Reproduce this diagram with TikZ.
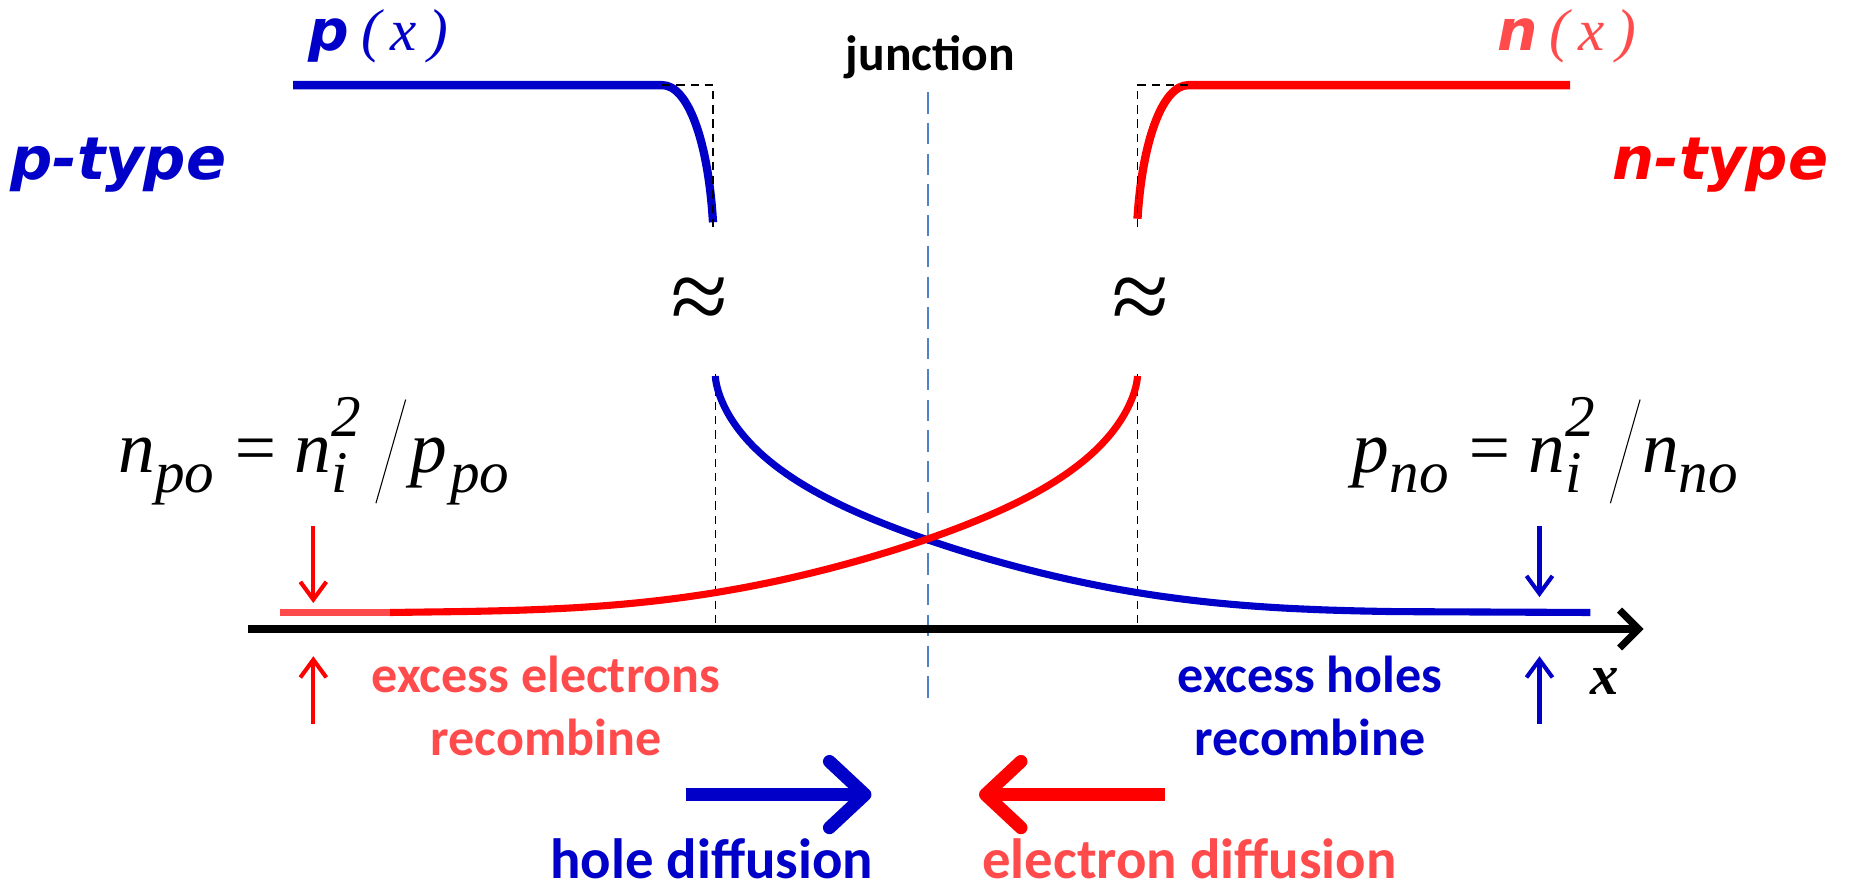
\documentclass[tikz,border=0pt]{standalone}
\usepackage{fontspec}
\usepackage{graphicx}
\setmainfont{Liberation Serif}
\newfontfamily\calb{Carlito}
\newfontfamily\dvs{DejaVu Sans}
\usetikzlibrary{arrows.meta}
\definecolor{pblue}{RGB}{0,0,200}
\definecolor{nred}{RGB}{255,0,0}
\definecolor{lred}{RGB}{255,75,75}
\definecolor{jblue}{RGB}{80,130,200}
\newcommand{\fs}[1]{\fontsize{#1}{#1}\selectfont}
\newcommand{\eqsub}[1]{\raisebox{-0.27em}{\fs{50}#1}}
\newcommand{\eqsup}[1]{\rlap{\raisebox{0.5em}{\fs{50}#1}}}
\newcommand{\slashbar}{\raisebox{-0.41em}{\rotatebox{-16}{\rule{0.9pt}{1.47em}}}}
\tikzset{
  curve/.style={line width=6pt},
  topline/.style={line width=7pt},
  guide/.style={black, line width=1.4pt, dash pattern=on 7pt off 5pt},
  smallarr/.style={line width=3.5pt, -{Straight Barb[length=15pt,width=22pt]}},
  bigarr/.style={line width=11pt, -{Straight Barb[length=30pt,width=56pt,round]}},
  lbl/.style={font=\calb\bfseries\fontsize{44}{53}\selectfont, align=center},
  difflbl/.style={font=\calb\bfseries\fs{48}, anchor=base},
  typelbl/.style={font=\dvs\bfseries\itshape\fs{50}},
  eqn/.style={anchor=base west, font=\fs{62}\itshape, inner sep=0pt},
}
\begin{document}
\begin{tikzpicture}[x=1pt,y=-1pt]
\useasboundingbox (0,0) rectangle (1568,755);
% labels top
\node[typelbl, text=pblue] (ptype) at (100,140) {p-type};
\node[typelbl, text=nred] (ntype) at (1455,140) {n-type};
\node[text=pblue] (px) at (320,31) {{\dvs\bfseries\itshape\fs{48}p}\hspace{10pt}{\fs{50}\itshape (\hspace{8pt}x\hspace{10pt})}};
\node[text=lred] (nx) at (1325,31) {{\dvs\bfseries\itshape\fs{48}n}\hspace{10pt}{\fs{50}\itshape (\hspace{8pt}x\hspace{10pt})}};
\node[font=\calb\bfseries\fs{42}, anchor=base] (junc) at (787,60) {junction};
% junction line
\coordinate (j0) at (785,78);
\coordinate (j1) at (785,597);
\draw[jblue, line width=1.4pt, dash pattern=on 18pt off 8pt] (j0) -- (j1);
% top curves
\draw[pblue, topline] (248,72) -- (560,72) .. controls (582,72) and (599,120) .. (603,188);
\draw[nred, topline] (962,185) .. controls (966,120) and (983,72) .. (1005,72) -- (1328,72);
\draw[guide] (560,72) -- (603,72) -- (603,194);
\draw[guide] (1005,72) -- (962,72) -- (962,194);
% approx symbols
\node[font=\fs{88}\itshape] (br1) at (590,258) {≈};
\node[font=\fs{88}\itshape] (br2) at (963,258) {≈};
% guides bottom
\draw[guide] (605,316) -- (605,532);
\draw[guide] (962,316) -- (962,532);
% lower curves
\draw[pblue, curve] (605,318) -- plot[domain=0.05:24, samples=140, variable=\t]
  ({605+\t*\t}, {518-200*exp(-(0.037*pow(\t,1.3)+0.0173*pow(\t*\t/100,3)))}) -- (1345,518);
\draw[lred, curve] (237,518) -- (330,518);
\draw[nred, curve] (330,518) -- plot[domain=24:0.05, samples=140, variable=\t]
  ({962-\t*\t}, {518-200*exp(-(0.037*pow(\t,1.3)+0.0173*pow(\t*\t/100,3)))}) -- (962,318);
% axis
\coordinate (ax0) at (210,532);
\coordinate (ax1) at (1390,532);
\draw[line width=6pt, -{Straight Barb[length=16pt,width=32pt]}] (ax0) -- (ax1);
\node[font=\fs{48}\bfseries\itshape] (xl) at (1357,576) {x};
% equations
\node[eqn] (eqL) at (100,400) {n\eqsub{po}\hspace{0.22em}=\hspace{0.2em}n\eqsup{2}\eqsub{i}\hspace{0.38em}\slashbar\hspace{0.06em}p\eqsub{\hspace{0.05em}po}};
\node[eqn] (eqR) at (1144,400) {p\eqsub{no}\hspace{0.22em}=\hspace{0.2em}n\eqsup{2}\eqsub{i}\hspace{0.38em}\slashbar\hspace{0.02em}n\eqsub{no}};
% small arrows
\coordinate (ra0) at (265,445); \coordinate (ra1) at (265,510);
\coordinate (ra2) at (265,612); \coordinate (ra3) at (265,555);
\draw[nred, smallarr] (ra0) -- (ra1);
\draw[nred, smallarr] (ra2) -- (ra3);
\coordinate (ba0) at (1302,445); \coordinate (ba1) at (1302,505);
\coordinate (ba2) at (1302,612); \coordinate (ba3) at (1302,555);
\draw[pblue, smallarr] (ba0) -- (ba1);
\draw[pblue, smallarr] (ba2) -- (ba3);
% recombine labels
\node[lbl, text=lred] (exe) at (462,597) {excess electrons\\recombine};
\node[lbl, text=pblue] (exh) at (1108,597) {excess holes\\recombine};
% diffusion arrows
\coordinate (hd0) at (580,672); \coordinate (hd1) at (737,672);
\coordinate (ed0) at (985,672); \coordinate (ed1) at (828,672);
\draw[pblue, bigarr] (hd0) -- (hd1);
\draw[nred, bigarr] (ed0) -- (ed1);
\node[difflbl, text=pblue] (hdl) at (602,743) {hole diffusion};
\node[difflbl, text=lred] (edl) at (1006,743) {electron diffusion};
\end{tikzpicture}
\end{document}
